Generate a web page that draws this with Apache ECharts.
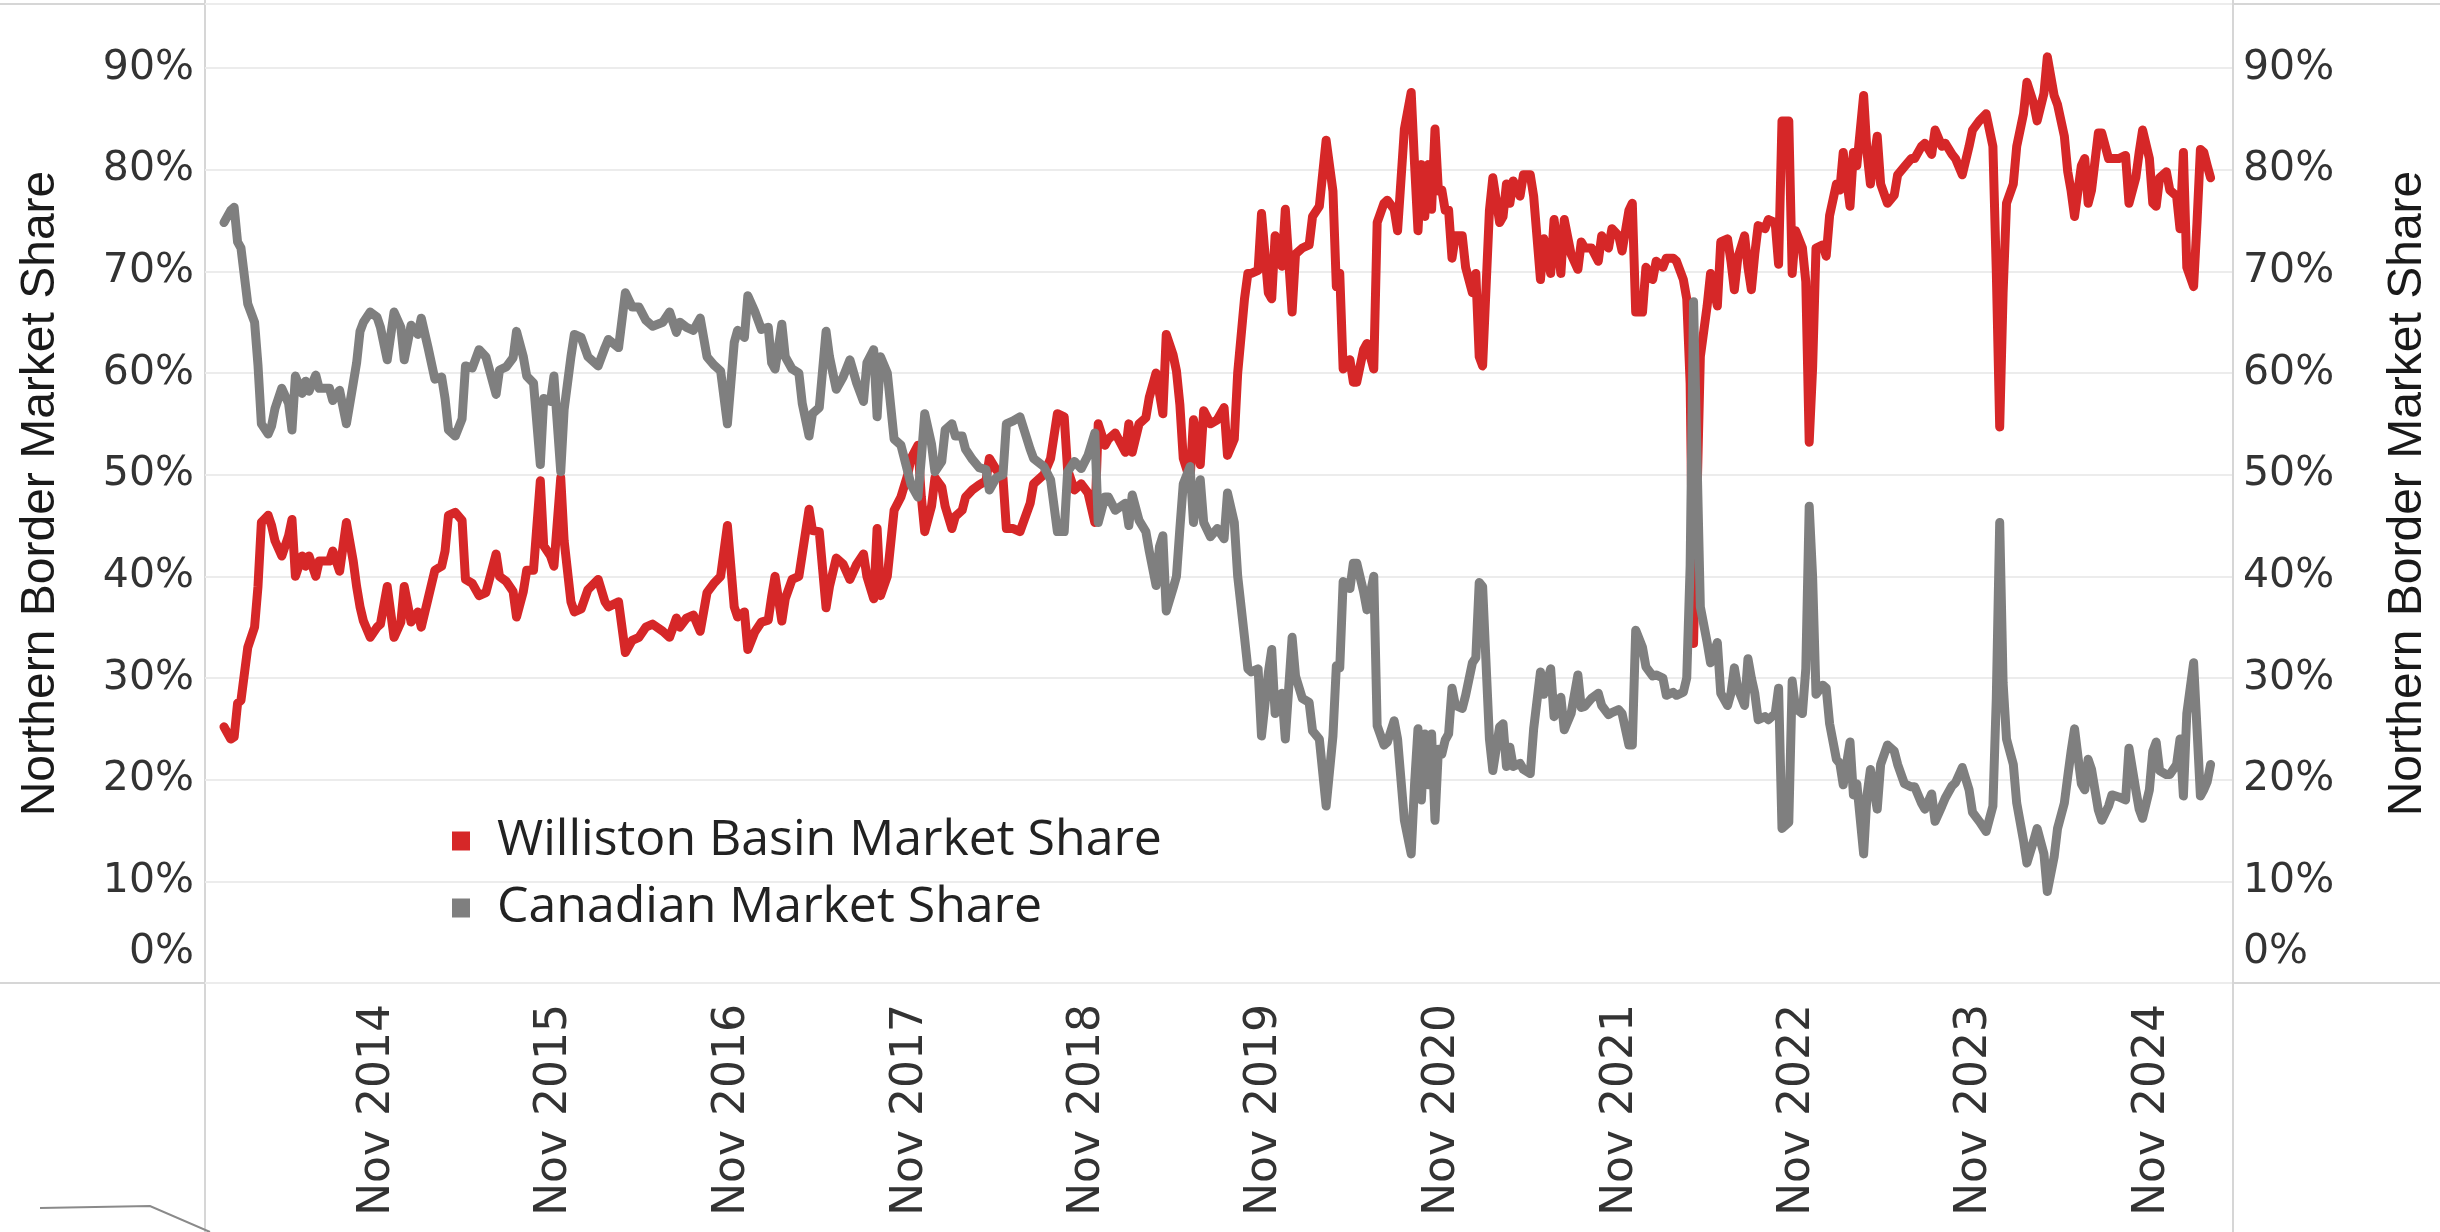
<!DOCTYPE html>
<html>
<head>
<meta charset="utf-8">
<title>Northern Border Market Share</title>
<script src="https://cdn.jsdelivr.net/npm/echarts@6/dist/echarts.min.js"></script>
<style>
  html, body { margin: 0; padding: 0; background: #fff; }
  #chart { width: 2440px; height: 1232px; }
</style>
</head>
<body>
<div id="chart"></div>
<script>
// weekly observations, counted in weeks from the first data point (20 Dec 2013)
const firstWeek = new Date(2013, 11, 20).getTime()
const weekNo = [
  0, 2, 3, 4, 5, 7, 9, 10, 11, 13, 14, 15, 17, 19, 20, 21, 23, 24, 25, 27, 28, 31, 32, 34, 36, 38, 39, 40, 41, 43,
  45, 46, 48, 50, 52, 53, 55, 57, 58, 60, 62, 64, 65, 66, 68, 70, 71, 73, 75, 77, 80, 81, 83, 85, 86, 88, 89, 91, 93, 94,
  96, 97, 99, 100, 102, 103, 105, 107, 110, 112, 113, 116, 118, 120, 122, 124, 126, 129, 131, 133, 134, 136, 138, 140, 142, 144, 146, 148, 150, 151,
  153, 154, 156, 158, 160, 161, 162, 164, 165, 167, 169, 170, 172, 173, 175, 177, 178, 180, 182, 184, 186, 188, 189, 191, 192, 193, 195, 197, 199, 201,
  202, 204, 205, 206, 208, 209, 211, 212, 214, 215, 217, 218, 220, 222, 224, 225, 227, 229, 230, 232, 234, 237, 238, 241, 243, 245, 247, 248, 250, 252,
  254, 256, 257, 259, 260, 262, 265, 266, 267, 269, 271, 272, 274, 275, 276, 277, 279, 280, 281, 282, 284, 285, 287, 288, 290, 292, 294, 295, 297, 298,
  300, 301, 302, 304, 305, 307, 308, 309, 311, 312, 314, 315, 317, 319, 320, 322, 324, 326, 327, 328, 329, 331, 332, 333, 335, 336, 338, 339, 341, 342,
  344, 345, 347, 349, 350, 351, 352, 353, 354, 355, 356, 357, 358, 359, 360, 361, 362, 364, 365, 367, 368, 369, 370, 372, 373, 375, 376, 377, 378, 379,
  381, 382, 384, 385, 387, 388, 390, 391, 393, 394, 396, 398, 399, 400, 402, 404, 405, 407, 408, 410, 411, 413, 414, 415, 417, 418, 420, 421, 423, 424,
  426, 427, 429, 430, 431, 432, 434, 436, 437, 439, 440, 442, 443, 444, 445, 447, 448, 449, 450, 451, 453, 454, 456, 457, 458, 460, 461, 462, 464, 465,
  466, 467, 468, 470, 471, 472, 474, 475, 476, 478, 479, 480, 482, 483, 484, 486, 487, 489, 491, 492, 494, 496, 497, 499, 500, 502, 503, 505, 506, 508,
  509, 511, 513, 514, 516, 518, 520, 521, 522, 523, 524, 526, 527, 529, 530, 532, 533, 535, 536, 538, 539, 541, 542, 543, 544, 546, 547, 548, 549, 551,
  552, 554, 555, 557, 559, 560, 562, 563, 564, 566, 567, 568, 569, 571, 572, 574, 575, 576, 577, 579, 580, 581, 582, 583, 584
]

const willistonShare = [
  25.2, 24.0, 24.2, 27.5, 27.8, 33.0, 35.0, 39.0, 45.3, 46.0, 45.0, 43.5, 42.0, 44.0, 45.6, 40.0, 42.0, 41.0, 42.0, 40.0, 41.5, 41.5, 42.5, 40.5, 45.3, 41.5, 39.0, 37.0, 35.6, 34.0,
  35.0, 35.3, 39.0, 34.0, 35.5, 39.0, 35.5, 36.5, 35.0, 37.8, 40.6, 41.0, 42.5, 46.0, 46.3, 45.5, 39.7, 39.3, 38.1, 38.4, 42.2, 40.0, 39.5, 38.5, 36.0, 38.5, 40.6, 40.6, 49.4, 43.0,
  42.0, 41.0, 49.7, 43.5, 37.5, 36.5, 36.8, 38.7, 39.7, 37.5, 37.0, 37.5, 32.5, 33.7, 34.0, 35.0, 35.3, 34.6, 34.0, 35.9, 35.0, 35.9, 36.2, 34.6, 38.4, 39.3, 40.0, 45.0, 37.0, 36.0,
  36.5, 32.8, 34.5, 35.5, 35.7, 38.0, 40.0, 35.6, 37.8, 39.7, 40.0, 42.2, 46.6, 44.5, 44.4, 36.9, 39.0, 41.8, 41.2, 39.7, 41.2, 42.2, 40.0, 37.8, 44.7, 38.1, 40.0, 46.5, 47.8, 50.0,
  51.6, 52.9, 47.8, 44.4, 46.9, 49.7, 48.8, 46.9, 44.7, 45.9, 46.5, 47.8, 48.5, 49.0, 49.4, 51.6, 50.5, 49.7, 44.7, 44.7, 44.4, 47.2, 49.1, 50.0, 51.6, 56.0, 55.7, 50.5, 48.5, 49.1,
  48.2, 45.3, 55.0, 52.9, 53.5, 54.1, 52.2, 55.0, 52.2, 55.0, 55.6, 57.6, 60.0, 58.0, 56.0, 63.8, 61.8, 60.2, 56.9, 51.6, 49.5, 55.4, 51.0, 56.3, 55.0, 55.4, 56.6, 51.9, 53.5, 60.0,
  67.3, 69.8, 69.8, 70.1, 75.7, 67.9, 67.3, 73.5, 70.5, 76.1, 66.0, 71.7, 72.3, 72.6, 75.4, 76.4, 82.9, 77.9, 68.5, 69.8, 60.4, 61.3, 59.1, 59.1, 62.3, 62.9, 60.4, 74.8, 76.7, 77.0,
  76.1, 74.0, 84.0, 87.6, 80.5, 74.0, 80.5, 75.4, 80.5, 76.1, 84.0, 77.9, 78.0, 76.0, 76.0, 71.3, 73.5, 73.5, 70.4, 67.9, 69.8, 61.6, 60.7, 76.0, 79.2, 74.8, 75.4, 78.6, 76.7, 78.9,
  77.4, 79.5, 79.5, 77.4, 69.2, 73.2, 69.8, 75.1, 69.8, 75.1, 71.7, 70.2, 72.9, 72.3, 72.3, 71.0, 73.5, 72.3, 74.2, 73.5, 72.0, 76.0, 76.7, 66.0, 66.0, 70.4, 69.2, 71.0, 70.4, 71.3,
  71.3, 71.0, 69.2, 67.3, 59.0, 33.4, 61.6, 66.6, 69.8, 66.6, 72.9, 73.2, 71.0, 68.2, 71.3, 73.5, 70.4, 68.2, 71.7, 74.5, 74.2, 75.1, 74.8, 70.7, 84.8, 84.8, 69.8, 74.0, 72.3, 69.0,
  53.2, 60.5, 72.3, 72.6, 71.5, 75.5, 78.6, 78.0, 81.7, 76.4, 81.7, 80.4, 87.3, 81.7, 78.6, 83.3, 78.6, 76.7, 77.5, 79.5, 80.3, 81.1, 81.1, 82.3, 82.6, 81.5, 83.9, 82.3, 82.6, 81.5,
  81.1, 79.5, 82.3, 83.9, 84.8, 85.5, 82.3, 70.0, 54.7, 67.9, 76.7, 78.6, 82.3, 85.5, 88.6, 86.5, 84.8, 87.5, 91.1, 87.3, 86.4, 83.3, 79.8, 77.9, 75.4, 80.4, 81.1, 76.7, 78.0, 83.6,
  83.6, 81.1, 81.1, 81.1, 81.4, 76.7, 79.2, 81.7, 83.9, 81.1, 76.7, 76.4, 79.2, 79.8, 78.0, 77.4, 74.2, 81.7, 70.4, 68.5, 74.8, 82.0, 81.7, 80.4, 79.2
]

const canadianShare = [
  74.8, 76.0, 76.3, 72.9, 72.3, 66.8, 65.0, 60.8, 55.0, 54.0, 54.8, 56.5, 58.5, 57.0, 54.4, 59.7, 58.0, 59.2, 58.2, 59.8, 58.5, 58.5, 57.3, 58.3, 55.0, 59.0, 61.0, 64.1, 65.0, 66.0,
  65.5, 64.5, 61.3, 66.0, 64.5, 61.3, 64.7, 63.8, 65.4, 62.5, 59.4, 59.6, 57.5, 54.4, 53.8, 55.5, 60.7, 60.5, 62.3, 61.6, 57.9, 60.3, 60.6, 61.5, 64.1, 61.6, 59.7, 59.0, 51.0, 57.5,
  57.2, 59.7, 50.3, 56.4, 61.6, 63.8, 63.5, 61.6, 60.7, 62.5, 63.3, 62.5, 67.9, 66.5, 66.5, 65.2, 64.6, 65.0, 66.0, 64.0, 65.0, 64.5, 64.2, 65.4, 61.6, 60.8, 60.2, 55.0, 63.0, 64.2,
  63.5, 67.6, 66.1, 64.3, 64.5, 61.0, 60.4, 64.8, 61.6, 60.4, 60.0, 57.0, 53.8, 56.0, 56.6, 64.1, 61.6, 58.4, 59.6, 61.3, 59.0, 57.2, 61.0, 62.3, 55.7, 61.6, 60.0, 53.5, 52.9, 50.3,
  49.0, 47.8, 51.6, 56.0, 53.0, 50.3, 51.3, 54.4, 55.0, 53.8, 53.8, 52.5, 51.5, 50.7, 50.5, 48.5, 49.7, 50.0, 55.0, 55.3, 55.7, 52.5, 51.6, 50.8, 49.5, 44.4, 44.4, 50.3, 51.3, 50.6,
  51.9, 54.1, 45.3, 47.8, 47.8, 46.5, 47.2, 45.0, 48.0, 45.5, 44.4, 42.5, 39.1, 42.9, 44.0, 36.6, 38.8, 40.0, 44.7, 49.1, 50.8, 45.3, 49.5, 45.3, 43.9, 44.7, 43.7, 48.2, 45.3, 40.0,
  34.0, 30.9, 30.6, 30.9, 24.3, 30.5, 32.8, 26.5, 28.5, 24.0, 34.0, 30.2, 28.0, 27.6, 24.8, 24.0, 17.4, 24.3, 31.2, 31.0, 39.5, 38.8, 41.3, 41.3, 38.5, 36.7, 40.0, 25.3, 23.4, 23.7,
  25.8, 24.0, 16.0, 12.7, 19.6, 25.0, 18.0, 24.5, 19.5, 24.5, 16.0, 23.0, 22.5, 23.9, 24.5, 29.0, 27.3, 27.0, 28.3, 31.5, 32.0, 39.4, 39.0, 24.0, 20.9, 25.2, 25.5, 21.3, 23.2, 21.3,
  21.6, 21.0, 20.6, 25.0, 30.6, 28.4, 30.9, 26.2, 28.1, 24.9, 26.5, 30.3, 27.1, 27.2, 28.0, 28.5, 27.3, 26.4, 26.6, 26.9, 26.5, 23.4, 23.4, 34.7, 33.0, 31.1, 30.2, 30.3, 30.0, 28.3,
  28.6, 28.3, 28.6, 30.0, 41.0, 67.0, 37.0, 33.5, 31.5, 33.5, 28.5, 27.3, 28.5, 31.0, 29.0, 27.3, 31.9, 30.0, 28.5, 25.9, 26.2, 25.9, 26.5, 29.0, 15.2, 15.8, 29.7, 27.0, 26.5, 30.9,
  46.9, 40.0, 28.4, 29.3, 29.0, 25.5, 22.0, 21.6, 19.5, 23.7, 18.5, 19.6, 12.7, 18.5, 21.0, 17.1, 21.5, 23.4, 22.8, 21.5, 19.6, 19.3, 19.3, 17.7, 17.1, 18.6, 15.9, 17.4, 18.2, 19.4,
  19.7, 21.2, 19.0, 16.8, 15.9, 14.9, 17.4, 28.0, 45.3, 29.5, 24.0, 21.5, 17.7, 14.0, 11.8, 14.0, 15.2, 12.7, 9.0, 12.4, 15.2, 17.7, 20.3, 22.8, 25.0, 19.6, 19.0, 22.0, 21.0, 17.0,
  16.0, 17.4, 18.5, 18.3, 18.0, 23.1, 19.0, 17.1, 16.2, 19.0, 22.8, 23.7, 20.9, 20.5, 20.5, 21.5, 24.0, 18.4, 26.5, 31.5, 25.0, 18.4, 19.0, 19.8, 21.5
]

// x-axis labels sit on the first of November each year
const labelYears = [2014, 2015, 2016, 2017, 2018, 2019, 2020, 2021, 2022, 2023, 2024]
const yTicks = [0, 10, 20, 30, 40, 50, 60, 70, 80, 90]

const DAY = 24 * 3600 * 1000
const toTime = w => firstWeek + w * 7 * DAY
const williston = weekNo.map((w, i) => [toTime(w), willistonShare[i]])
const canadian = weekNo.map((w, i) => [toTime(w), canadianShare[i]])

const tickFont = 'DejaVu Sans'
const titleFont = 'Liberation Sans'
const paneLine = '#d6d6d6'

function pctLabel (v) {
  if (yTicks.indexOf(Math.round(v * 100) / 100) < 0) return ''
  return v === 0 ? '{zero|0%}' : v + '%'
}

function yAxisOpt (pos) {
  return {
    type: 'value',
    position: pos,
    min: 0,
    max: 96.3,
    interval: 10,
    name: 'Northern Border Market Share',
    nameLocation: 'middle',
    nameRotate: 90,
    nameGap: pos === 'left' ? 140 : 152,
    nameTextStyle: { fontFamily: titleFont, fontSize: 48, color: '#1a1a1a' },
    axisLine: { show: false },
    axisTick: { show: false },
    splitLine: { show: pos === 'left', lineStyle: { color: '#ececec', width: 2 } },
    axisLabel: {
      margin: 11,
      fontFamily: tickFont,
      fontSize: 41,
      color: '#333',
      formatter: pctLabel,
      rich: {
        zero: { fontFamily: tickFont, fontSize: 41, color: '#333', padding: [0, 0, 62, 0] }
      }
    }
  }
}

const chart = echarts.init(document.getElementById('chart'))
chart.setOption({
  animation: false,
  backgroundColor: '#fff',
  grid: { left: 205, right: 207, top: 4, bottom: 249, containLabel: false },
  legend: {
    orient: 'vertical',
    left: 447,
    top: 811,
    itemWidth: 18,
    itemHeight: 19,
    itemGap: 17,
    icon: 'rect',
    formatter: name => '{t|' + name + '}',
    textStyle: {
      rich: {
        t: { fontFamily: 'Open Sans', fontSize: 50, lineHeight: 52, color: '#222', padding: [0, 0, 0, 22] }
      }
    },
    data: ['Williston Basin Market Share', 'Canadian Market Share']
  },
  // dates are plotted as timestamps on a plain value axis
  xAxis: {
    type: 'value',
    min: new Date(2013, 10, 11).getTime(),
    max: new Date(2025, 3, 13).getTime(),
    axisLine: { show: false },
    axisTick: { show: false },
    splitLine: { show: false },
    axisLabel: {
      rotate: 90,
      margin: 21,
      fontFamily: tickFont,
      fontSize: 44,
      color: '#333',
      customValues: labelYears.map(y => new Date(y, 10, 1).getTime()),
      formatter: v => 'Nov ' + new Date(v).getFullYear()
    }
  },
  yAxis: [yAxisOpt('left'), yAxisOpt('right')],
  series: [
    {
      name: 'Williston Basin Market Share',
      type: 'line',
      data: williston,
      showSymbol: false,
      lineStyle: { color: '#d62728', width: 9, join: 'round', cap: 'round' },
      itemStyle: { color: '#d62728' }
    },
    {
      name: 'Canadian Market Share',
      type: 'line',
      data: canadian,
      showSymbol: false,
      lineStyle: { color: '#7f7f7f', width: 9, join: 'round', cap: 'round' },
      itemStyle: { color: '#7f7f7f' }
    }
  ],
  // pane dividers that run across the whole picture, plus the clipped logo stroke at bottom left
  graphic: [
    { type: 'line', silent: true, shape: { x1: 0, y1: 4, x2: 2440, y2: 4 }, style: { stroke: paneLine, lineWidth: 2 } },
    { type: 'line', silent: true, shape: { x1: 0, y1: 983, x2: 2440, y2: 983 }, style: { stroke: paneLine, lineWidth: 2 } },
    { type: 'line', silent: true, shape: { x1: 205, y1: 0, x2: 205, y2: 1232 }, style: { stroke: paneLine, lineWidth: 2 } },
    { type: 'line', silent: true, shape: { x1: 2233, y1: 0, x2: 2233, y2: 1232 }, style: { stroke: paneLine, lineWidth: 2 } },
    { type: 'polyline', silent: true, shape: { points: [[40, 1208], [150, 1206], [210, 1232]] }, style: { stroke: '#8a8a8a', lineWidth: 2, fill: null } }
  ]
})
</script>
</body>
</html>
